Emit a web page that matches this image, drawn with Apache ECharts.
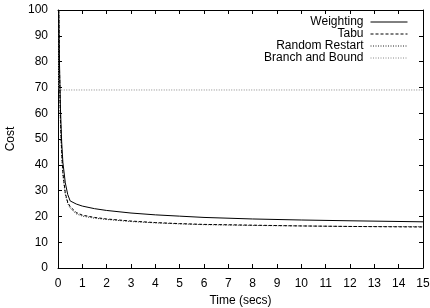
<!DOCTYPE html>
<html>
<head>
<meta charset="utf-8">
<script src="https://cdn.jsdelivr.net/npm/echarts@6/dist/echarts.min.js"></script>
<style>
  html, body { margin: 0; padding: 0; background: #fff; }
  #chart { width: 430px; height: 308px; }
</style>
</head>
<body>
<div id="chart"></div>
<script>
// values: [time (secs), cost]
const weighting = [[0.03, 100], [0.06, 80], [0.1, 62], [0.15, 49], [0.2, 41], [0.3, 33], [0.4, 28.5], [0.5, 26], [0.75, 24.8], [1, 24], [1.5, 23], [2, 22.3], [3, 21.3], [4, 20.6], [5, 20.1], [6, 19.6], [8, 19], [10, 18.6], [12, 18.3], [15, 17.9]];
const tabu = [[0.03, 100], [0.06, 78], [0.1, 58], [0.15, 45], [0.2, 37], [0.3, 29], [0.4, 25.5], [0.5, 23.8], [0.75, 21.5], [1, 20.5], [1.5, 19.6], [2, 19], [3, 18.2], [4, 17.6], [5, 17.2], [6, 16.9], [8, 16.6], [10, 16.3], [12, 16.1], [15, 15.9]];
const randomRestart = [[0.03, 100], [0.06, 76], [0.1, 56], [0.15, 44], [0.2, 36], [0.3, 28.5], [0.4, 25], [0.5, 23.2], [0.75, 21], [1, 20.1], [1.5, 19.3], [2, 18.8], [3, 18], [4, 17.5], [5, 17.1], [6, 16.8], [8, 16.5], [10, 16.3], [12, 16.1], [15, 16]];
const branchAndBound = [[0.02, 100], [0.03, 69], [15, 69]];

const seriesNames = ['Weighting', 'Tabu', 'Random Restart', 'Branch and Bound'];
const xTicks = { min: 0, max: 15, interval: 1 };
const yTicks = { min: 0, max: 100, interval: 10 };

const font = 'Liberation Sans, Arial, sans-serif';
const txt = '#000';

const chart = echarts.init(document.getElementById('chart'));

function axisBase(extra) {
  return Object.assign({
    axisLine: { show: true, onZero: false, lineStyle: { color: '#000', width: 1 } },
    axisTick: { show: true, inside: true, length: 4, lineStyle: { color: '#000' } },
    splitLine: { show: false },
    axisLabel: { color: txt, fontFamily: font, fontSize: 12, margin: 10 }
  }, extra);
}

const legendTops = [16, 28, 40, 52];
const styles = [
  { type: 'solid', color: '#000', width: 1 },
  { type: [3, 2], color: '#000', width: 1 },
  { type: [1, 1.5], color: '#222', width: 1 },
  { type: [1, 1.5], color: '#888', width: 1 }
];

chart.setOption({
  animation: false,
  backgroundColor: '#fff',
  grid: { left: 58, right: 7, top: 10, bottom: 40, containLabel: false, outerBoundsMode: 'none' },
  legend: seriesNames.map((n, i) => ({
    data: [n],
    right: 22,
    top: legendTops[i],
    align: 'right',
    itemWidth: 37,
    itemHeight: 10,
    itemGap: 0,
    padding: 0,
    itemStyle: { color: 'rgba(0,0,0,0)', borderWidth: 0 },
    lineStyle: { width: 1, color: styles[i].color, type: styles[i].type },
    textStyle: { color: txt, fontFamily: font, fontSize: 12, padding: [0, 2, 0, 0] }
  })),
  xAxis: [
    axisBase(Object.assign({
      type: 'value', position: 'bottom',
      name: 'Time (secs)', nameLocation: 'middle', nameGap: 21,
      nameTextStyle: { color: txt, fontFamily: font, fontSize: 12 }
    }, xTicks)),
    axisBase(Object.assign({ type: 'value', position: 'top', axisLabel: { show: false } }, xTicks))
  ],
  yAxis: [
    axisBase(Object.assign({
      type: 'value', position: 'left',
      name: 'Cost', nameLocation: 'middle', nameGap: 37,
      nameTextStyle: { color: txt, fontFamily: font, fontSize: 12 }
    }, yTicks)),
    axisBase(Object.assign({ type: 'value', position: 'right', axisLabel: { show: false } }, yTicks))
  ],
  series: [weighting, tabu, randomRestart, branchAndBound].map((d, i) => ({
    name: seriesNames[i],
    type: 'line',
    data: d,
    symbol: 'none',
    smooth: false,
    lineStyle: styles[i],
    itemStyle: { color: styles[i].color },
    z: 4 - i
  }))
});
</script>
</body>
</html>
